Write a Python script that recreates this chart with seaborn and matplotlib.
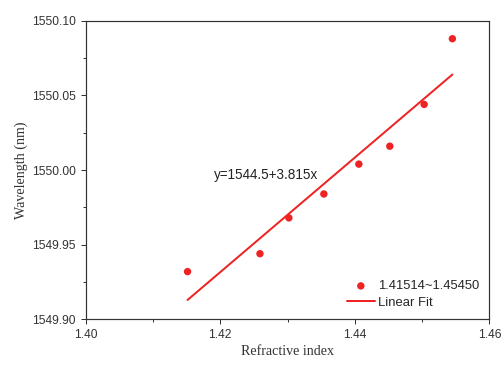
import matplotlib.pyplot as plt
import seaborn as sns
from matplotlib.ticker import MultipleLocator

# measured points
ref_index = [1.41514, 1.4259, 1.4302, 1.4354, 1.4406, 1.4452, 1.4503, 1.45450]
wavelength = [1549.932, 1549.944, 1549.968, 1549.984, 1550.004, 1550.016, 1550.044, 1550.088]

# linear fit line end points (y = 1544.5 + 3.815x)
fit_x = [1.41514, 1.45450]
fit_y = [1549.913, 1550.064]

red = '#ee2424'

sns.set_style("ticks")
plt.rcParams['font.family'] = ['Liberation Sans', 'DejaVu Sans']

fig, ax = plt.subplots(figsize=(7, 365 / 72), dpi=72)
fig.subplots_adjust(left=0.17, right=0.971, top=0.943, bottom=0.125)

sns.scatterplot(x=ref_index, y=wavelength, ax=ax, color=red, s=55,
                edgecolor='none', label='1.41514~1.45450', zorder=3)
sns.lineplot(x=fit_x, y=fit_y, ax=ax, color=red, linewidth=2, label='Linear Fit')

ax.text(1.4191, 1549.997, 'y=1544.5+3.815x', fontsize=13.5, color='#222222',
        va='center', ha='left')

ax.set_xlim(1.40, 1.46)
ax.set_ylim(1549.90, 1550.10)
ax.xaxis.set_major_locator(MultipleLocator(0.02))
ax.xaxis.set_minor_locator(MultipleLocator(0.01))
ax.yaxis.set_major_locator(MultipleLocator(0.05))
ax.yaxis.set_minor_locator(MultipleLocator(0.025))
ax.xaxis.set_major_formatter(plt.FormatStrFormatter('%.2f'))
ax.yaxis.set_major_formatter(plt.FormatStrFormatter('%.2f'))
ax.tick_params(which='major', direction='out', length=5, width=1, labelsize=12,
               colors='#333333', pad=5)
ax.tick_params(which='minor', direction='out', length=3, width=1, colors='#333333')
for s in ax.spines.values():
    s.set_color('#333333')
    s.set_linewidth(1.2)

ax.set_xlabel('Refractive index', family='Liberation Serif', fontsize=14, color='#333333')
ax.set_ylabel('Wavelength (nm)', family='Liberation Serif', fontsize=14, color='#333333')

ax.legend(loc='lower right', frameon=False, fontsize=13, handlelength=2.2,
          handletextpad=0.2, labelspacing=0.35, borderaxespad=0.4)

fig.savefig('out.png', dpi=72)
